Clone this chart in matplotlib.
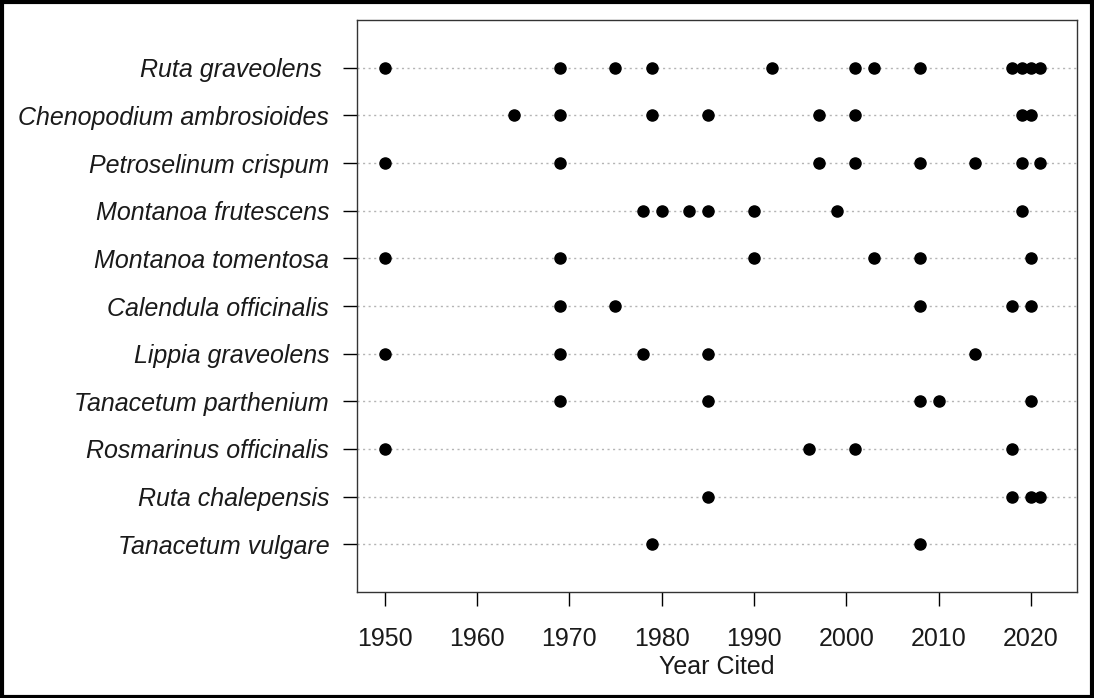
import matplotlib
matplotlib.use("Agg")

import matplotlib.pyplot as plt
from matplotlib.patches import Rectangle

plt.rcParams['font.family'] = ['Liberation Sans', 'DejaVu Sans']

species = [
    "Ruta graveolens ",
    "Chenopodium ambrosioides",
    "Petroselinum crispum",
    "Montanoa frutescens",
    "Montanoa tomentosa",
    "Calendula officinalis",
    "Lippia graveolens",
    "Tanacetum parthenium",
    "Rosmarinus officinalis",
    "Ruta chalepensis",
    "Tanacetum vulgare",
]

ruta_graveolens = [1950, 1969, 1975, 1979, 1992, 2001, 2003, 2008, 2018, 2019, 2020, 2021]
chenopodium = [1964, 1969, 1979, 1985, 1997, 2001, 2019, 2020]
petroselinum = [1950, 1969, 1997, 2001, 2008, 2014, 2019, 2021]
montanoa_frut = [1978, 1980, 1983, 1985, 1990, 1999, 2019]
montanoa_tom = [1950, 1969, 1990, 2003, 2008, 2020]
calendula = [1969, 1975, 2008, 2018, 2020]
lippia = [1950, 1969, 1978, 1985, 2014]
tanacetum_parth = [1969, 1985, 2008, 2010, 2020]
rosmarinus = [1950, 1996, 2001, 2018]
ruta_chalepensis = [1985, 2018, 2020, 2021]
tanacetum_vulg = [1979, 2008]

years = [ruta_graveolens, chenopodium, petroselinum, montanoa_frut, montanoa_tom,
         calendula, lippia, tanacetum_parth, rosmarinus, ruta_chalepensis, tanacetum_vulg]

fig = plt.figure(figsize=(10.94, 6.98), dpi=100)
ax = fig.add_axes([357 / 1094, 1 - 592 / 698, 720 / 1094, 572 / 698])

n = len(species)
ypos = list(range(n, 0, -1))

for y, yrs in zip(ypos, years):
    ax.axhline(y, color="#b4b4b4", linestyle=(0, (1.5, 2.5)), linewidth=1, zorder=1)
    ax.plot(yrs, [y] * len(yrs), "o", color="black", markersize=8, zorder=3)

ax.set_xlim(1947, 2025)
ax.set_ylim(0, n + 1)
ax.set_yticks(ypos)
ax.set_yticklabels(species, fontstyle="italic", fontsize=18, color="#1a1a1a")
ax.set_xticks(range(1950, 2021, 10))
ax.tick_params(axis="x", labelsize=18, length=10, width=1, pad=15, labelcolor="#1a1a1a")
ax.tick_params(axis="y", length=10, width=1, pad=10)
ax.set_xlabel("Year Cited", fontsize=18, labelpad=3, color="#1a1a1a")

for s in ax.spines.values():
    s.set_linewidth(1)
    s.set_color("#333333")

fig.patches.append(Rectangle((0.0015, 0.002), 0.997, 0.995, transform=fig.transFigure,
                             fill=False, edgecolor="black", linewidth=3))

fig.savefig("out.png", dpi=100)
